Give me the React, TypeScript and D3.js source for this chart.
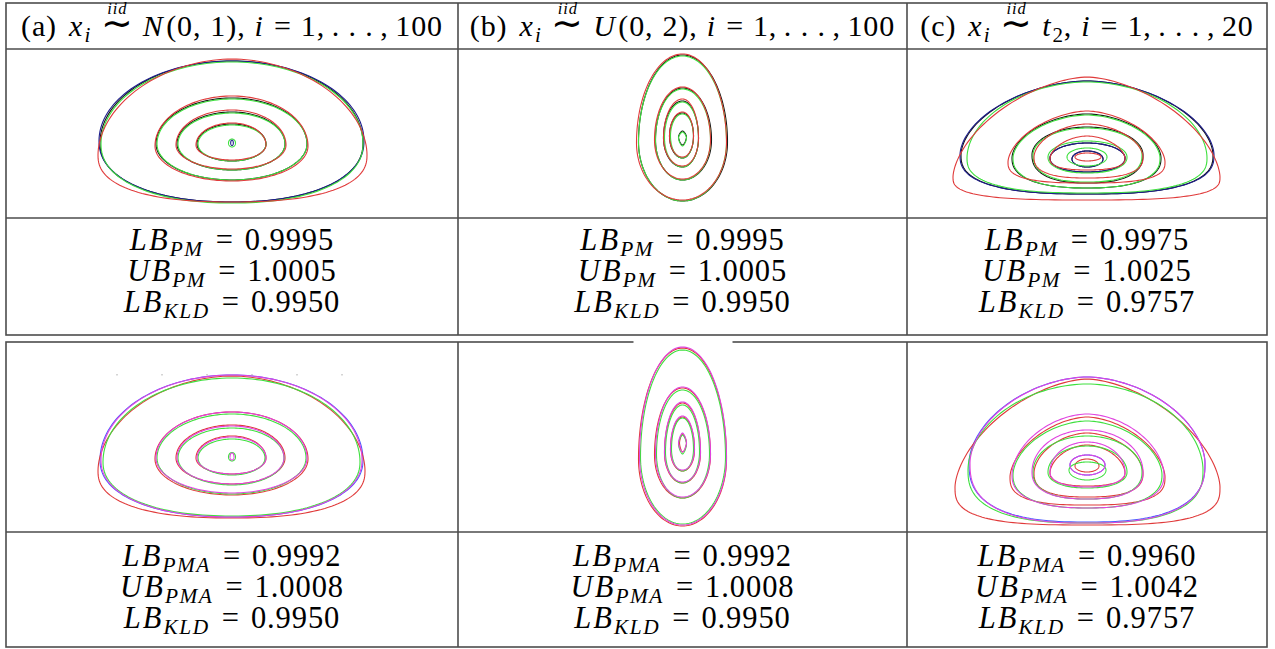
import * as d3 from "d3";
import { useMemo } from "react";

const W = 1275;
const H = 649;

// table grid
const COL_X = [6, 458, 907, 1267];
const T1 = { top: 3, head: 49, plot: 218, bottom: 335 };
const T2 = { top: 342, plot: 532, bottom: 647 };
const ORIGIN_Y = [143, 457];
const FONT = '"Liberation Serif", "Times New Roman", serif';

// contour = [left, right, top, bottom, widestY, topExp, bottomExp] in plot units around panel centre (y up)
type Shape = [number, number, number, number, number, number, number];

const BLACK = "#151515";
const GREEN = "#3ee03e";
const NAVY = "#1d1d8c";
const RED = "#e03a3a";
const MAGENTA = "#e044e0";
const BLUE = "#4a5cff";

// row 1, (a) normal
const A1_BLACK: Shape[] = [
  [-132, 131, 82, -59, 0, 2, 2.2],
  [-76, 75, 45, -37, -1, 2, 2],
  [-55, 53, 31, -27, -1, 2, 2],
  [-35, 34, 19, -18, -1, 2, 2],
];
const A1_NAVY: Shape[] = [
  [-133, 132, 82, -59, 2, 2, 2.2],
  [-1.3, 1.3, 3, -2.5, 0, 2, 2],
];
const A1_GREEN: Shape[] = [
  [-131, 131, 81, -60, -1, 2, 2.2],
  [-75, 75, 44, -37, -1, 2, 2],
  [-54, 53, 30, -27, -1, 2, 2],
  [-34, 34, 18, -18, -1, 2, 2],
  [-3.5, 3.5, 4, -4, 0, 2, 2],
];
const A1_RED: Shape[] = [
  [-134, 135, 84, -59, -12, 1.9, 2.4],
  [-77, 76, 47, -38, -3, 2, 2],
  [-56, 54, 33, -26, -2, 2, 2],
  [-36, 34, 20, -17, -2, 2, 2],
];

// row 1, (b) uniform
const B1_BLACK: Shape[] = [
  [-44, 45, 88, -58, 1, 2, 2],
  [-27, 29, 55, -37, 3, 2, 2],
  [-19, 16, 42, -24, 5, 2, 2],
  [-13, 11, 30, -15, 7, 2, 2],
  [-4, 4, 12, -2, 6, 1.5, 1.5],
];
const B1_GREEN: Shape[] = [
  [-44, 44, 87, -58, 1, 2, 2],
  [-27, 28, 54, -37, 3, 2, 2],
  [-18, 16, 41, -24, 5, 2, 2],
  [-12, 11, 29, -15, 7, 2, 2],
  [-4, 4, 11, -3, 5, 1.5, 1.5],
];
const B1_RED: Shape[] = [
  [-46, 44, 89, -57, 0, 2, 2],
  [-28, 28, 56, -36, 3, 2, 2],
  [-19, 16, 44, -23, 5, 2, 2],
  [-13, 11, 31, -14, 7, 2, 2],
];

// row 1, (c) t2
const C1_BLACK: Shape[] = [
  [-126, 126, 62, -51, -12, 1.8, 2.6],
  [-75, 74, 29, -45, -15, 1.8, 2.4],
  [-55, 56, 16, -40, -12, 2, 2.4],
  [-37, 38, 0, -29, -15, 2, 2.2],
  [-15, 16, -8, -24, -16, 2, 2],
];
const C1_NAVY: Shape[] = [
  [-127, 127, 62, -51, -12, 1.8, 2.6],
  [-37, 38, 0, -29, -15, 2, 2.2],
  [-15, 16, -8, -24, -16, 2, 2],
];
const C1_GREEN: Shape[] = [
  [-120, 120, 61, -50, -15, 1.9, 2.6],
  [-74, 73, 28, -45, -15, 1.8, 2.4],
  [-54, 55, 15, -39, -12, 2, 2.4],
  [-39, 40, 2, -30, -14, 2, 2.2],
  [-20, 20, -5, -23, -14, 2, 2],
];
const C1_RED: Shape[] = [
  [-134, 133, 66, -57, -34, 1.65, 3],
  [-79, 78, 32, -40, -19, 1.7, 2.8],
  [-53, 56, 19, -35, -14, 1.8, 2.6],
  [-37, 38, 7, -27, -16, 1.8, 2.4],
  [-12, 14, -10, -18, -14, 2, 2],
];

// row 2, (a)
const A2_MAGENTA: Shape[] = [
  [-131, 130, 82, -60, -3, 2, 2.2],
  [-76, 75, 45, -36, -1, 2, 2],
  [-55, 52, 31, -27, -1, 2, 2],
  [-35, 34, 20, -17, -1, 2, 2],
  [-2, 2, 4, -3, 0, 2, 2],
];
const A2_BLUE: Shape[] = [[-132, 131, 82, -60, -3, 2, 2.2]];
const A2_GREEN: Shape[] = [
  [-129, 128, 79, -59, -5, 2, 2.2],
  [-75, 74, 43, -37, -1, 2, 2],
  [-54, 52, 29, -28, -1, 2, 2],
  [-34, 33, 18, -18, -1, 2, 2],
  [-3.5, 3.5, 4.5, -4, 0, 2, 2],
];
const A2_RED: Shape[] = [
  [-134, 133, 81, -61, -14, 1.9, 2.4],
  [-77, 76, 45, -38, -2, 2, 2],
  [-56, 53, 32, -27, -1, 2, 2],
  [-36, 34, 21, -17, -1, 2, 2],
];
const A2_TICKS = [-115, -70, -25, 20, 65, 110];

// row 2, (b)
const B2_MAGENTA: Shape[] = [
  [-43, 44, 110, -68, 0, 2, 2],
  [-27, 28, 70, -40, 3, 2, 2],
  [-18, 18, 55, -25, 5, 2, 2],
  [-12, 12, 41, -13, 8, 2, 2],
  [-4, 4, 24, 5, 14, 1.5, 1.5],
];
const B2_GREEN: Shape[] = [
  [-42, 43, 107, -67, 0, 2, 2],
  [-26, 27, 67, -41, 3, 2, 2],
  [-17, 17, 52, -26, 5, 2, 2],
  [-11, 11, 39, -14, 8, 2, 2],
  [-4, 4, 22, 3, 13, 1.5, 1.5],
];
const B2_RED: Shape[] = [
  [-44, 44, 109, -69, -2, 2, 2],
  [-28, 28, 69, -41, 2, 2, 2],
  [-18, 18, 54, -26, 4, 2, 2],
  [-12, 12, 40, -14, 7, 2, 2],
  [-3, 4, 23, 5, 14, 1.5, 1.5],
];

// row 2, (c)
const C2_MAGENTA: Shape[] = [
  [-117, 118, 80, -66, -6, 1.8, 2.6],
  [-75, 77, 43, -51, -18, 1.8, 2.4],
  [-55, 56, 27, -42, -15, 2, 2.4],
  [-37, 38, 15, -30, -15, 2, 2.2],
  [-17, 18, 2, -18, -8, 2, 2],
];
const C2_BLUE: Shape[] = [
  [-118, 118, 80, -65, -6, 1.8, 2.6],
  [-17, 18, 2, -18, -8, 2, 2],
];
const C2_GREEN: Shape[] = [
  [-119, 116, 73, -66, -13, 1.9, 2.6],
  [-74, 75, 36, -51, -18, 1.8, 2.4],
  [-54, 55, 21, -42, -15, 2, 2.4],
  [-39, 40, 11, -31, -15, 2, 2.2],
  [-18, 19, -5, -23, -13, 2, 2],
];
const C2_RED: Shape[] = [
  [-132, 133, 78, -68, -30, 1.65, 3],
  [-77, 78, 40, -48, -20, 1.7, 2.8],
  [-53, 56, 24, -40, -16, 1.8, 2.6],
  [-37, 38, 12, -29, -16, 1.8, 2.4],
  [-12, 12, -2, -15, -9, 2, 2],
];

// texts
const PANEL_TAGS = ["(a)", "(b)", "(c)"];
const DISTS = ["N", "U", "t"];
const DIST_ARGS = [["(0,", "1),"], ["(0,", "2),"], [","]];
const SAMPLE_N = ["100", "100", "20"];
const ROW1_NAMES = [["LB", "PM"], ["UB", "PM"], ["LB", "KLD"]];
const ROW2_NAMES = [["LB", "PMA"], ["UB", "PMA"], ["LB", "KLD"]];
const ROW1_VALUES = [
  ["0.9995", "1.0005", "0.9950"],
  ["0.9995", "1.0005", "0.9950"],
  ["0.9975", "1.0025", "0.9757"],
];
const ROW2_VALUES = [
  ["0.9992", "1.0008", "0.9950"],
  ["0.9992", "1.0008", "0.9950"],
  ["0.9960", "1.0042", "0.9757"],
];

const PANELS = [
  { row: 0, col: 0, series: [[BLACK, A1_BLACK], [NAVY, A1_NAVY], [GREEN, A1_GREEN], [RED, A1_RED]] },
  { row: 0, col: 1, series: [[BLACK, B1_BLACK], [GREEN, B1_GREEN], [RED, B1_RED]] },
  { row: 0, col: 2, series: [[BLACK, C1_BLACK], [NAVY, C1_NAVY], [GREEN, C1_GREEN], [RED, C1_RED]] },
  { row: 1, col: 0, series: [[BLUE, A2_BLUE], [RED, A2_RED], [GREEN, A2_GREEN], [MAGENTA, A2_MAGENTA]] },
  { row: 1, col: 1, series: [[RED, B2_RED], [GREEN, B2_GREEN], [MAGENTA, B2_MAGENTA]] },
  { row: 1, col: 2, series: [[BLUE, C2_BLUE], [RED, C2_RED], [GREEN, C2_GREEN], [MAGENTA, C2_MAGENTA]] },
] as { row: number; col: number; series: [string, Shape[]][] }[];

const ctx = document.createElement("canvas").getContext("2d")!;
function textWidth(t: string, size: number, italic: boolean) {
  ctx.font = `${italic ? "italic " : ""}${size}px ${FONT}`;
  return ctx.measureText(t).width;
}

interface Seg {
  t: string;
  it?: boolean;
  sub?: boolean;
  over?: string;
  scale?: number;
  post?: number;
}

function MathLine({ segs, cx, y, size }: { segs: Seg[]; cx: number; y: number; size: number }) {
  let x = 0;
  const items = segs.map((s) => {
    const fs = (s.sub ? size * 0.7 : size) * (s.scale ?? 1);
    const ls = s.it ? fs * 0.07 : fs * 0.03;
    const w = textWidth(s.t, fs, !!s.it) + ls * s.t.length;
    const item = { ...s, x, fs, w, ls };
    x += w + (s.post ?? 0) * size;
    return item;
  });
  const x0 = cx - x / 2;
  return (
    <g fill="#000" fontFamily={FONT}>
      {items.map((s, i) => (
        <g key={i}>
          <text
            x={x0 + s.x}
            y={y + (s.sub ? size * 0.2 : 0)}
            fontSize={s.fs}
            fontStyle={s.it ? "italic" : "normal"}
            letterSpacing={s.ls}
          >
            {s.t}
          </text>
          {s.over && (
            <text
              x={x0 + s.x + s.w / 2}
              y={y - size * 0.72}
              fontSize={size * 0.55}
              fontStyle="italic"
              textAnchor="middle"
              letterSpacing={size * 0.03}
            >
              {s.over}
            </text>
          )}
        </g>
      ))}
    </g>
  );
}

function headerSegs(i: number): Seg[] {
  const args = DIST_ARGS[i];
  const dist: Seg[] =
    i === 2
      ? [{ t: DISTS[i], it: true }, { t: "2", sub: true }, { t: args[0], post: 0.3 }]
      : [
          { t: DISTS[i], it: true, post: 0.04 },
          { t: args[0], post: 0.3 },
          { t: args[1], post: 0.3 },
        ];
  return [
    { t: PANEL_TAGS[i], post: 0.4 },
    { t: "x", it: true },
    { t: "i", it: true, sub: true, post: 0.3 },
    { t: "\u223C", over: "iid", scale: 1.25, post: 0.3 },
    ...dist,
    { t: "i", it: true, post: 0.3 },
    { t: "=", post: 0.3 },
    { t: "1,", post: 0.22 },
    { t: ". . .", post: 0.22 },
    { t: ",", post: 0.22 },
    { t: SAMPLE_N[i] },
  ];
}

function cellSegs(name: string[], value: string): Seg[] {
  return [
    { t: name[0], it: true },
    { t: name[1], it: true, sub: true, post: 0.4 },
    { t: "=", post: 0.36 },
    { t: value },
  ];
}

function shapePoints(s: Shape): [number, number][] {
  const [l, r, t, b, w, nt, nb] = s;
  const pts: [number, number][] = [];
  const N = 160;
  for (let k = 0; k < N; k++) {
    const a = (k / N) * 2 * Math.PI;
    const sx = Math.sin(a);
    const cy = Math.cos(a);
    const n = cy >= 0 ? nt : nb;
    const fx = Math.pow(Math.abs(sx), 2 / n);
    const fy = Math.pow(Math.abs(cy), 2 / n);
    const x = sx >= 0 ? fx * r : fx * l;
    const y = cy >= 0 ? w + fy * (t - w) : w - fy * (w - b);
    pts.push([x, y]);
  }
  return pts;
}

export default function App() {
  const panels = useMemo(
    () =>
      PANELS.map((p) => {
        const left = COL_X[p.col];
        const right = COL_X[p.col + 1];
        const cx = (left + right) / 2;
        const top = p.row === 0 ? T1.head : T2.top;
        const bottom = p.row === 0 ? T1.plot : T2.plot;
        const oy = ORIGIN_Y[p.row];
        const x = d3.scaleLinear().domain([left - cx, right - cx]).range([left, right]);
        const y = d3.scaleLinear().domain([oy - bottom, oy - top]).range([bottom, top]);
        const line = d3
          .line<[number, number]>()
          .x((d) => x(d[0]))
          .y((d) => y(d[1]))
          .curve(d3.curveLinearClosed);
        return {
          ...p,
          x,
          y,
          paths: p.series.flatMap(([color, shapes], si) =>
            shapes.map((s, k) => ({ key: `${si}-${k}`, color, d: line(shapePoints(s)) ?? "" }))
          ),
        };
      }),
    []
  );

  const centers = [0, 1, 2].map((c) => (COL_X[c] + COL_X[c + 1]) / 2);
  const grid = "#4d4d4d";
  const row1Base = [250, 281, 312];
  const row2Base = [566, 597, 628];
  const a2 = panels[3];
  const b2 = panels[4];

  return (
    <svg
      width={W}
      height={H}
      style={{ position: "absolute", left: 0, top: 0, background: "#fff" }}
    >
      <rect width={W} height={H} fill="#fff" />
      {panels.map((p) => (
        <g key={`${p.row}-${p.col}`} fill="none" strokeWidth={1.1}>
          {p.paths.map((d) => (
            <path key={d.key} d={d.d} stroke={d.color} />
          ))}
        </g>
      ))}
      {A2_TICKS.map((t) => (
        <line
          key={t}
          x1={a2.x(t)}
          x2={a2.x(t)}
          y1={a2.y(83)}
          y2={a2.y(81.5)}
          stroke="#aaa"
          strokeWidth={1}
        />
      ))}

      {/* table rules */}
      <g stroke={grid} strokeWidth={1.6} fill="none">
        <rect x={COL_X[0]} y={T1.top} width={COL_X[3] - COL_X[0]} height={T1.bottom - T1.top} />
        <line x1={COL_X[0]} x2={COL_X[3]} y1={T1.head} y2={T1.head} />
        <line x1={COL_X[0]} x2={COL_X[3]} y1={T1.plot} y2={T1.plot} />
        {[1, 2].map((c) => (
          <line key={c} x1={COL_X[c]} x2={COL_X[c]} y1={T1.top} y2={T1.bottom} />
        ))}
        <rect x={COL_X[0]} y={T2.top} width={COL_X[3] - COL_X[0]} height={T2.bottom - T2.top} />
        <line x1={COL_X[0]} x2={COL_X[3]} y1={T2.plot} y2={T2.plot} />
        {[1, 2].map((c) => (
          <line key={c} x1={COL_X[c]} x2={COL_X[c]} y1={T2.top} y2={T2.bottom} />
        ))}
      </g>
      {/* plot image of (b) overlaps the upper rule */}
      <rect x={b2.x(-49)} y={T2.top - 2} width={b2.x(50) - b2.x(-49)} height={4} fill="#fff" />

      {centers.map((cx, i) => (
        <MathLine key={`h${i}`} segs={headerSegs(i)} cx={cx} y={36} size={30} />
      ))}
      {centers.map((cx, i) =>
        ROW1_NAMES.map((nm, j) => (
          <MathLine key={`r1${i}${j}`} segs={cellSegs(nm, ROW1_VALUES[i][j])} cx={cx} y={row1Base[j]} size={30.5} />
        ))
      )}
      {centers.map((cx, i) =>
        ROW2_NAMES.map((nm, j) => (
          <MathLine key={`r2${i}${j}`} segs={cellSegs(nm, ROW2_VALUES[i][j])} cx={cx} y={row2Base[j]} size={30.5} />
        ))
      )}
    </svg>
  );
}
